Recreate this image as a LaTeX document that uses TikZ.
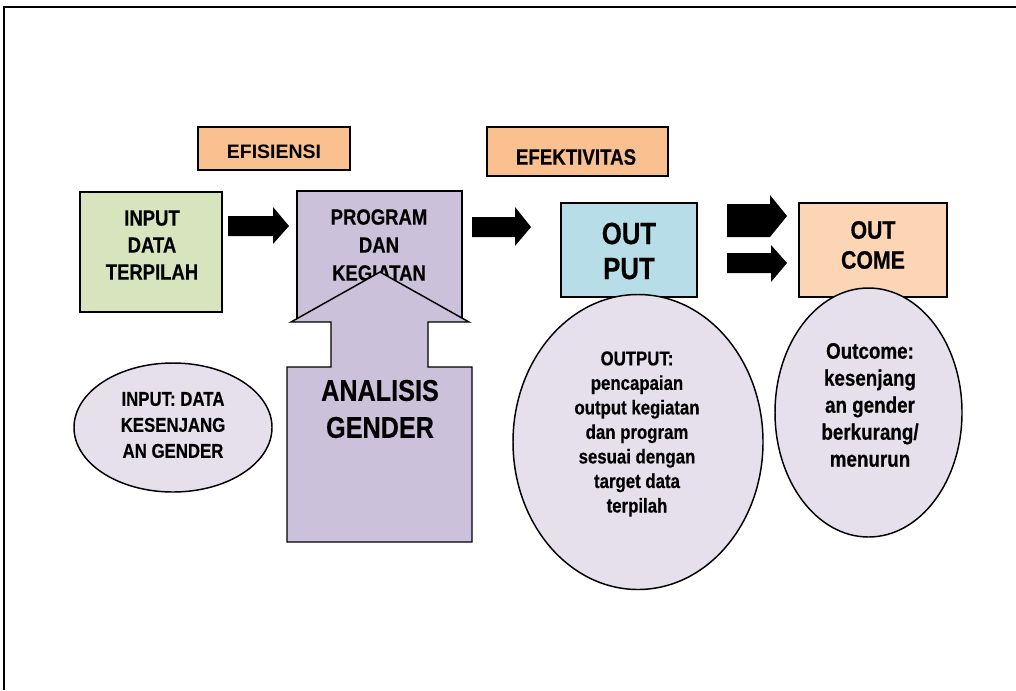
\documentclass[tikz,border=0pt]{standalone}
\usepackage{fontspec}
\setmainfont{Liberation Sans}
\newfontfamily\narrowsans{Liberation Sans}[FakeStretch=0.84, BoldFeatures={FakeBold=0.4}]
\usetikzlibrary{shapes.geometric,fit}

\definecolor{tagfill}{HTML}{FAC090}
\definecolor{inputfill}{HTML}{D7E4BD}
\definecolor{progfill}{HTML}{CCC1DA}
\definecolor{outputfill}{HTML}{B7DEE8}
\definecolor{outcomefill}{HTML}{FCD5B5}
\definecolor{bubblefill}{HTML}{E6E0EC}

\begin{document}
\begin{tikzpicture}[x=0.75pt,y=-0.75pt,
  box/.style={draw=black, line width=1.1pt, inner sep=0pt},
  txt/.style={align=center, inner sep=0pt, font=\narrowsans\bfseries},
  bubble/.style={ellipse, draw=black, line width=1.1pt, fill=bubblefill, inner sep=0pt},
  blockarrow/.style={fill=black},
  bigarrow/.style={draw=black, line width=1.1pt, fill=progfill, line join=miter}]
\useasboundingbox (0,0) rectangle (1016,690);

% outer frame
\draw[line width=1.5pt] (4,690) -- (4,7) -- (1016,7);

% headings
\node[box, fill=tagfill, fit={(198,127) (350,170)}] (efis) {};
\node[inner sep=0pt, font=\bfseries\fontsize{14.6pt}{17pt}\selectfont] (efistxt) at (274,152) {EFISIENSI};
\node[box, fill=tagfill, fit={(487,127) (668,176)}] (efek) {};
\node[txt, font=\narrowsans\bfseries\fontsize{16.7pt}{19pt}\selectfont] (efektxt) at (576,157) {EFEKTIVITAS};

% input box
\node[box, fill=inputfill, fit={(80,192) (222,312)}] (input) {};
\node[txt, font=\narrowsans\bfseries\fontsize{16.5pt}{20.25pt}\selectfont] (inputtxt) at (152,245) {INPUT\\DATA\\TERPILAH};

% program box
\node[box, fill=progfill, fit={(297,191) (462,320)}] (prog) {};
\node[txt, font=\narrowsans\bfseries\fontsize{16.5pt}{21pt}\selectfont] (progtxt) at (379,245) {PROGRAM\\DAN\\KEGIATAN};

% output box
\node[box, fill=outputfill, fit={(561,203) (697,297)}] (output) {};
\node[txt, font=\narrowsans\bfseries\fontsize{23pt}{26.25pt}\selectfont] (outputtxt) at (629,251) {OUT\\PUT};

% outcome box
\node[box, fill=outcomefill, fit={(799,203) (947,297)}] (outcome) {};
\node[txt, font=\narrowsans\bfseries\fontsize{19pt}{22.5pt}\selectfont] (outcometxt) at (873,245) {OUT\\COME};

% block arrows between the stages
\path[blockarrow] (228,216) -- (273,216) -- (273,207) -- (289,226) -- (273,244) -- (273,236) -- (228,236) -- cycle;
\path[blockarrow] (472,217) -- (515,217) -- (515,207) -- (531,227) -- (515,246) -- (515,237) -- (472,237) -- cycle;
\path[blockarrow] (727,204) -- (770,204) -- (770,195) -- (787,216) -- (770,237) -- (727,237) -- cycle;
\path[blockarrow] (727,253) -- (771,253) -- (771,245) -- (787,263) -- (771,282) -- (771,273) -- (727,273) -- cycle;

% gender analysis up-arrow
\draw[bigarrow] (380,272) -- (469,322) -- (428,322) -- (428,367) -- (472,367) -- (472,542)
  -- (287,542) -- (287,367) -- (331,367) -- (331,322) -- (291,322) -- cycle;
\node[txt, font=\narrowsans\bfseries\fontsize{22.5pt}{27.75pt}\selectfont] (analisis) at (380,409) {ANALISIS\\GENDER};

% bubbles
\node[bubble, minimum width=148.5pt, minimum height=96.75pt] (inputE) at (173,427.5) {};
\node[txt, font=\narrowsans\bfseries\fontsize{15pt}{19.5pt}\selectfont] (inputEtxt) at (173,425) {INPUT: DATA\\KESENJANG\\AN GENDER};

\node[bubble, minimum width=187.5pt, minimum height=221.25pt] (outputE) at (638,442) {};
\node[txt, font=\narrowsans\bfseries\fontsize{15pt}{18.4pt}\selectfont] (outputEtxt) at (637,434) {OUTPUT:\\pencapaian\\output kegiatan\\dan program\\sesuai dengan\\target data\\terpilah};

\node[bubble, minimum width=140.25pt, minimum height=186.75pt] (outcomeE) at (868.5,412.5) {};
\node[txt, font=\narrowsans\bfseries\fontsize{16.8pt}{20.25pt}\selectfont] (outcomeEtxt) at (870,405) {Outcome:\\kesenjang\\an gender\\berkurang/\\menurun};
\end{tikzpicture}
\end{document}
